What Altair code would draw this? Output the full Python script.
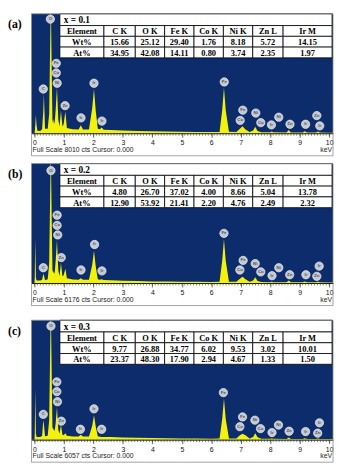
import altair as alt
import pandas as pd

# ---------------- data ----------------
KEV = [0.00, 0.01, 0.03, 0.05, 0.07, 0.10, 0.20, 0.26, 0.30, 0.32, 0.36, 0.45, 0.50, 0.555,
       0.61, 0.635, 0.655, 0.685, 0.72, 0.765, 0.81, 0.85, 0.90, 0.95, 0.99, 1.05, 1.10,
       1.30, 1.50, 1.57, 1.65, 1.85, 1.96, 2.02, 2.08, 2.15, 2.22, 2.28, 2.35, 2.60, 3.00,
       3.50, 4.00, 4.50, 5.00, 5.50, 6.00, 6.28, 6.37, 6.43, 6.49, 6.60, 6.85, 6.97, 7.06,
       7.16, 7.30, 7.42, 7.49, 7.57, 7.70, 8.00, 8.05, 8.10, 8.55, 8.63, 8.70, 9.10, 9.17,
       9.25, 9.55, 9.62, 9.68, 10.00, 10.13]

COUNTS_A = [0, 100, 600, 1247, 600, 172, 150, 280, 1500, 2645, 300, 300, 1300, 9030,
            900, 650, 968, 600, 1600, 3075, 900, 450, 1505, 450, 600, 1462, 350,
            260, 250, 540, 250, 250, 1700, 2967, 1500, 300, 260, 390, 240, 215, 180,
            150, 130, 110, 95, 85, 80, 90, 1550, 3075, 1550, 100, 80, 300, 473,
            250, 80, 180, 430, 150, 65, 60, 110, 60, 55, 215, 55, 45, 130,
            45, 45, 110, 45, 40, 40]

COUNTS_B = [0, 300, 2273, 300, 150, 130, 130, 170, 461, 420, 150, 200, 1000, 6917,
            700, 500, 626, 450, 1150, 2223, 650, 350, 1038, 350, 400, 741, 250,
            180, 165, 247, 165, 170, 950, 1663, 850, 190, 170, 198, 160, 148, 120,
            100, 85, 75, 66, 60, 55, 60, 1150, 2273, 1150, 70, 60, 220, 329,
            200, 60, 130, 296, 110, 50, 45, 66, 45, 40, 132, 40, 35, 82,
            35, 35, 66, 35, 30, 30]

COUNTS_C = [0, 300, 2551, 300, 150, 130, 130, 200, 988, 800, 170, 200, 1000, 6900,
            650, 480, 576, 420, 850, 1646, 500, 300, 741, 250, 230, 329, 200,
            165, 160, 247, 160, 160, 700, 1235, 650, 170, 150, 132, 140, 130, 110,
            95, 80, 70, 62, 58, 52, 58, 1050, 2090, 1050, 65, 60, 230, 296,
            220, 60, 140, 329, 120, 50, 45, 60, 45, 40, 115, 40, 35, 66,
            35, 35, 60, 35, 30, 30]

FULL_SCALE = [8010, 6176, 6057]
X_TITLES = ["x = 0.1", "x = 0.2", "x = 0.3"]
PANEL_TAGS = ["(a)", "(b)", "(c)"]

TABLE_HEADER = ["Element", "C K", "O K", "Fe K", "Co K", "Ni K", "Zn L", "Ir M"]
WT_A = [15.66, 25.12, 29.40, 1.76, 8.18, 5.72, 14.15]
AT_A = [34.95, 42.08, 14.11, 0.80, 3.74, 2.35, 1.97]
WT_B = [4.80, 26.70, 37.02, 4.00, 8.66, 5.04, 13.78]
AT_B = [12.90, 53.92, 21.41, 2.20, 4.76, 2.49, 2.32]
WT_C = [9.77, 26.88, 34.77, 6.02, 9.53, 3.02, 10.01]
AT_C = [23.37, 48.30, 17.90, 2.94, 4.67, 1.33, 1.50]

LABEL_EL = ["O", "C", "Fe", "Co", "Ni", "Zn", "Ir", "Ir", "Ir", "Fe",
            "Fe", "Co", "Ni", "Co", "Ir", "Ni", "Zn", "Ir", "Zn", "Ir"]
LABEL_KEV_A = [0.54, 0.30, 0.74, 0.74, 0.77, 1.04, 1.58, 2.02, 2.29, 6.44,
               7.07, 6.98, 7.51, 7.68, 8.04, 8.29, 8.67, 9.20, 9.58, 9.68]
LABEL_CTS_A = [7654, 2967, 4687, 4042, 3354, 1849, 1032, 3354, 817, 3440,
               1548, 860, 1355, 710, 559, 1075, 602, 602, 1183, 495]
LABEL_KEV_B = [0.56, 0.30, 0.77, 0.77, 0.79, 0.91, 1.58, 2.04, 2.29, 6.43,
               7.08, 6.97, 7.49, 7.68, 8.06, 8.29, 8.66, 9.21, 9.58, 9.66]
LABEL_CTS_B = [5814, 790, 3508, 2981, 2487, 1318, 675, 1993, 626, 2569,
               1169, 675, 1005, 576, 379, 790, 428, 428, 346, 873]
LABEL_KEV_C = [0.56, 0.30, 0.76, 0.76, 0.78, 0.91, 1.56, 2.02, 2.28, 6.41,
               7.06, 6.97, 7.48, 7.67, 8.06, 8.28, 8.64, 9.20, 9.61, 9.67]
LABEL_CTS_C = [5761, 1284, 2930, 2436, 1926, 938, 527, 1564, 527, 2387,
               1152, 658, 988, 560, 362, 741, 428, 412, 329, 856]

MAJOR_TICKS = [0, 1, 2, 3, 4, 5, 6, 7, 8, 9, 10]
MINOR_TICKS = [round(k * 0.1, 1) for k in range(101)]

COUNTS = [COUNTS_A, COUNTS_B, COUNTS_C]
WT = [WT_A, WT_B, WT_C]
AT = [AT_A, AT_B, AT_C]
LABEL_KEV = [LABEL_KEV_A, LABEL_KEV_B, LABEL_KEV_C]
LABEL_CTS = [LABEL_CTS_A, LABEL_CTS_B, LABEL_CTS_C]

# ---------------- layout / style ----------------
W, H = 308, 122
BLUE = "#0c2c6c"
YELLOW = "#f2f20a"
COL_EDGES = [29, 74, 106, 136, 166, 196, 226, 257, 307]
ROW_EDGES = [0, 12, 23, 34, 45]

X_AXIS = alt.Axis(values=MAJOR_TICKS, format="d", labelFontSize=7,
                  labelFont="Liberation Sans", labelColor="#111", labelPadding=2,
                  tickSize=4, tickColor="#222", tickWidth=0.7, domainColor="#111",
                  domainWidth=1, grid=False, labelFlush=False, labelOverlap=False, title=None)


def table_frames(i):
    cells, texts = [], []
    cells.append(dict(x0=COL_EDGES[0], x1=COL_EDGES[-1], y0=ROW_EDGES[0], y1=ROW_EDGES[1]))
    rows = [TABLE_HEADER,
            ["Wt%"] + [f"{v:.2f}" for v in WT[i]],
            ["At%"] + [f"{v:.2f}" for v in AT[i]]]
    for r, row in enumerate(rows):
        for c, t in enumerate(row):
            x0, x1 = COL_EDGES[c], COL_EDGES[c + 1]
            y0, y1 = ROW_EDGES[r + 1], ROW_EDGES[r + 2]
            cells.append(dict(x0=x0, x1=x1, y0=y0, y1=y1))
            texts.append(dict(tx=(x0 + x1) / 2, ty=(y0 + y1) / 2 + 0.5, t=t))
    return pd.DataFrame(cells), pd.DataFrame(texts)


def panel(i):
    xs = alt.Scale(domain=[-0.1, 10.13], nice=False, zero=False)
    ys = alt.Scale(domain=[0, FULL_SCALE[i]], nice=False, zero=True)
    one = pd.DataFrame({"fs": [FULL_SCALE[i]], "tag": [PANEL_TAGS[i]], "title": [X_TITLES[i]]})

    spec = alt.Chart(pd.DataFrame({"keV": KEV, "cts": COUNTS[i]})).mark_area(
        color=YELLOW, clip=True, interpolate="linear", opacity=1
    ).encode(
        x=alt.X("keV:Q", scale=xs, axis=X_AXIS),
        y=alt.Y("cts:Q", scale=ys, axis=None),
    )

    minor = alt.Chart(pd.DataFrame({"keV": MINOR_TICKS})).mark_rule(
        color="#333", strokeWidth=0.6
    ).encode(x=alt.X("keV:Q", scale=xs, axis=X_AXIS), y=alt.value(H), y2=alt.value(H + 2.5))

    lab_df = pd.DataFrame({"el": LABEL_EL, "keV": LABEL_KEV[i], "cts": LABEL_CTS[i]})
    circles = alt.Chart(lab_df).mark_circle(
        size=72, color="#c3c8d2", stroke="#eef0f4", strokeWidth=0.7, opacity=1
    ).encode(x=alt.X("keV:Q", scale=xs, axis=X_AXIS), y=alt.Y("cts:Q", scale=ys, axis=None))
    circ_txt = alt.Chart(lab_df).mark_text(
        fontSize=4.5, color="#555", font="Liberation Sans", fontWeight="bold"
    ).encode(x=alt.X("keV:Q", scale=xs, axis=X_AXIS), y=alt.Y("cts:Q", scale=ys, axis=None), text="el:N")

    cells, texts = table_frames(i)
    cell_rects = alt.Chart(cells).mark_rect(fill="white", stroke="black", strokeWidth=0.8).encode(
        x=alt.X("x0:Q", scale=None, axis=None), x2="x1:Q",
        y=alt.Y("y0:Q", scale=None, axis=None), y2="y1:Q")
    cell_text = alt.Chart(texts).mark_text(
        font="Liberation Serif", fontWeight="bold", fontSize=8.6, color="black", baseline="middle"
    ).encode(x=alt.X("tx:Q", scale=None, axis=None), y=alt.Y("ty:Q", scale=None, axis=None), text="t:N")
    title_text = alt.Chart(one).mark_text(
        font="Liberation Serif", fontWeight="bold", fontSize=9.5, color="black", align="left", baseline="middle"
    ).encode(x=alt.value(COL_EDGES[0] + 4), y=alt.value(6.5), text="title:N")

    box = alt.Chart(one).mark_rect(filled=False, stroke="#8c8c8c", strokeWidth=0.8).encode(
        x=alt.value(0), x2=alt.value(W), y=alt.value(0), y2=alt.value(H + 23))
    tag = alt.Chart(one).mark_text(
        font="Liberation Serif", fontWeight="bold", fontSize=12, align="left", baseline="middle", color="black"
    ).encode(x=alt.value(-24), y=alt.value(11), text="tag:N")
    footer = alt.Chart(one).mark_text(
        font="Liberation Sans", fontSize=7, align="left", baseline="middle", color="#222"
    ).encode(x=alt.value(1), y=alt.value(H + 17),
             text=alt.Text("label:N")).transform_calculate(
        label="'Full Scale ' + datum.fs + ' cts Cursor: 0.000'")
    kev = alt.Chart(one).mark_text(
        font="Liberation Sans", fontSize=7, align="right", baseline="middle", color="#222", text="keV"
    ).encode(x=alt.value(W - 1), y=alt.value(H + 17))

    return alt.layer(spec, minor, circles, circ_txt, cell_rects, cell_text, title_text,
                     box, tag, footer, kev).properties(width=W, height=H)


chart = alt.vconcat(
    alt.vconcat(panel(0), panel(1), spacing=6),
    panel(2), spacing=13
).properties(padding=0).configure_view(fill=BLUE, stroke=None)

chart.save("out.html", embed_options={"renderer": "svg", "actions": False})
